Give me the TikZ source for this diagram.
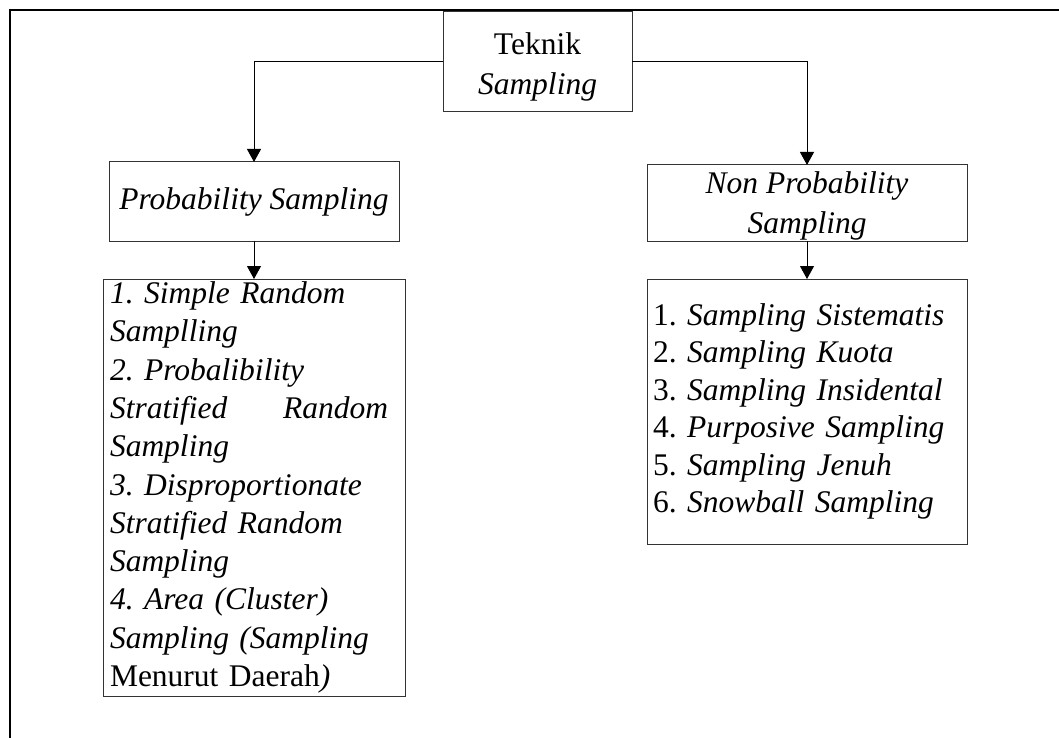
\documentclass[tikz,border=0pt]{standalone}
\usepackage{fontspec}
\setmainfont{Liberation Serif}
\usetikzlibrary{arrows.meta}
\frenchspacing

\begin{document}
\begin{tikzpicture}[x=1pt,y=-1pt,
  box/.style={draw=black!80, line width=1pt, outer sep=0pt, anchor=north west, inner sep=0pt},
  conn/.style={draw=black, line width=1pt, -{Triangle[width=14pt,length=13pt]}},
  txt/.style={font=\fontsize{31.5}{38.3}\selectfont},
  head/.style={font=\fontsize{31.5}{40}\selectfont, align=center}]
\useasboundingbox (0,0) rectangle (1059,738);

% open frame: top and left edges only
\draw[line width=2pt] (1059,10) -- (10,10) -- (10,738);

% top level
\node[box, head, minimum width=189, minimum height=100] (root) at (443,12)
  {\rule{0pt}{32pt}Teknik\\\textit{Sampling}};

% second level
\node[box, txt, minimum width=290, minimum height=79] (prob) at (109,162)
  {\textit{Probability Sampling}};
\node[box, head, minimum width=320, minimum height=76] (nonprob) at (647,165)
  {\rule{0pt}{27pt}\textit{Non Probability}\\\textit{Sampling}};

% lists of techniques
\node[box, txt, minimum width=302, minimum height=417, text width=288, inner xsep=7, align=left] (plist) at (103,279)
  {\textit{1. Simple Random}\\
   \textit{Samplling}\\
   \textit{2. Probalibility}\\
   \makebox[278pt][l]{\textit{Stratified}\hfill\textit{Random}}\\
   \textit{Sampling}\\
   \textit{3. Disproportionate}\\
   \textit{Stratified Random}\\
   \textit{Sampling}\\
   \textit{4. Area (Cluster)}\\
   \textit{Sampling (Sampling}\\
   Menurut Daerah\textit{)}};
\node[box, font=\fontsize{31.5}{37.4}\selectfont, minimum width=320, minimum height=265, text width=308, inner xsep=6, align=left] (nlist) at (647,279)
  {1. \textit{Sampling Sistematis}\\
   2. \textit{Sampling Kuota}\\
   3. \textit{Sampling Insidental}\\
   4. \textit{Purposive Sampling}\\
   5. \textit{Sampling Jenuh}\\
   6. \textit{Snowball Sampling}};

% connectors
\draw[conn] (root.west) -| (prob.north);
\draw[conn] (root.east) -| (nonprob.north);
\draw[conn] (prob.south) -- (plist.north);
\draw[conn] (nonprob.south) -- (nlist.north);
\end{tikzpicture}
\end{document}
